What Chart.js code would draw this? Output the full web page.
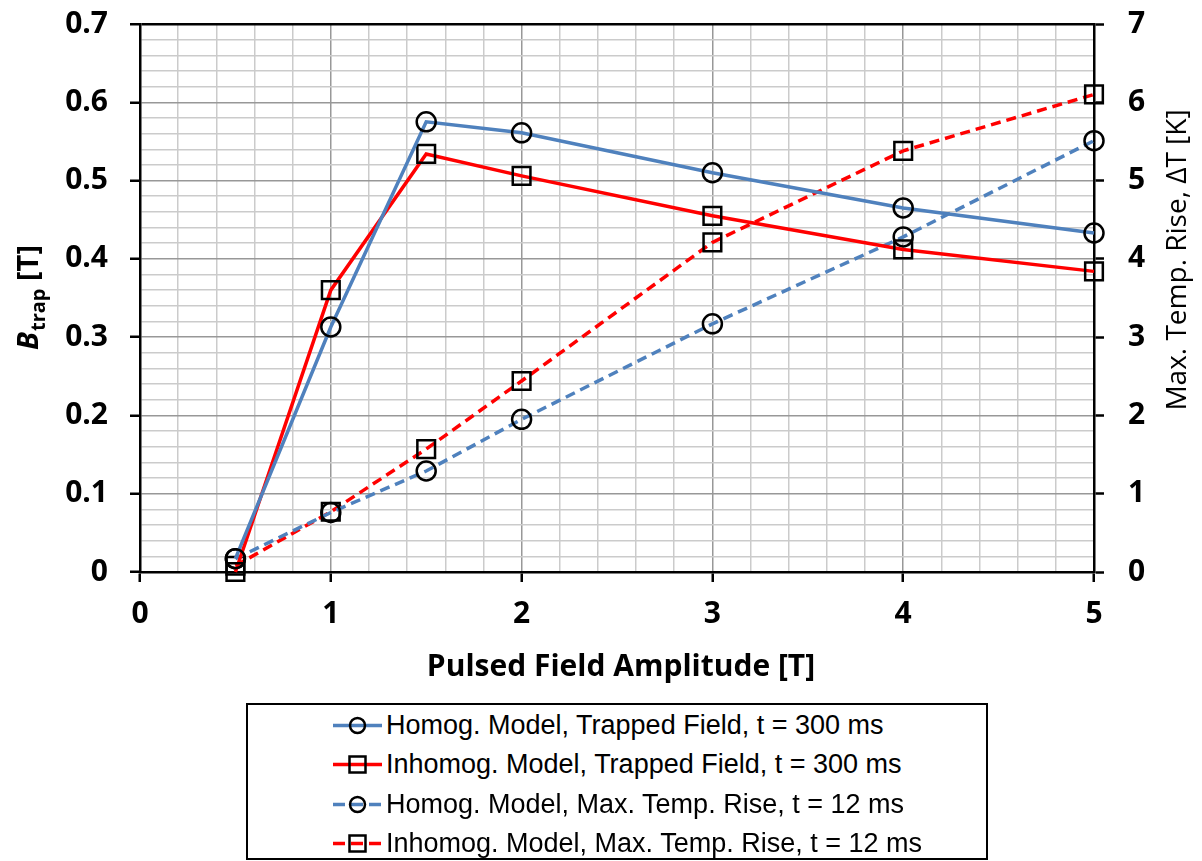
<!DOCTYPE html>
<html>
<head>
<meta charset="utf-8">
<script src="https://cdn.jsdelivr.net/npm/chart.js@4.4.1/dist/chart.umd.min.js"></script>
<style>
  html, body { margin: 0; padding: 0; background: #fff; }
  #wrap { position: relative; width: 1202px; height: 861px; }
  #legend {
    position: absolute; left: 246px; top: 703px; width: 742px; height: 157px;
    border: 2px solid #000; box-sizing: border-box; background: #fff;
    font-family: "Liberation Sans", Arial, sans-serif; font-size: 27px; color: #000;
  }
  #legend .row { position: absolute; left: 85px; height: 40px; display: flex; align-items: center; white-space: nowrap; }
  #legend svg { margin-right: 4px; }
</style>
</head>
<body>
<div id="wrap">
  <canvas id="chart" width="1202" height="861"></canvas>
  <div id="legend"></div>
</div>
<script>
// data
const amplitude = [0.5, 1, 1.5, 2, 3, 4, 5];
const homogField = [0.017, 0.313, 0.575, 0.561, 0.510, 0.465, 0.433];
const inhomogField = [0.0, 0.360, 0.534, 0.506, 0.455, 0.412, 0.384];
const homogTemp = [0.17, 0.76, 1.29, 1.95, 3.17, 4.28, 5.51];
const inhomogTemp = [0.08, 0.77, 1.57, 2.44, 4.21, 5.38, 6.10];
const seriesLabels = [
    'Homog. Model, Trapped Field, t = 300 ms',
    'Inhomog. Model, Trapped Field, t = 300 ms',
    'Homog. Model, Max. Temp. Rise, t = 12 ms',
    'Inhomog. Model, Max. Temp. Rise, t = 12 ms'
];

const BLUE = 'rgb(79,129,189)';
const RED = 'rgb(255,0,0)';
const tickFont = { family: '"Open Sans", sans-serif', size: 30, weight: 'bold' };

function isMultiple(v, step) {
    return Math.abs(v / step - Math.round(v / step)) < 1e-6;
}

function series(label, xs, ys, color, dashed, style, axis) {
    return {
        label: label,
        data: xs.map((x, i) => ({ x: x, y: ys[i] })),
        yAxisID: axis,
        borderColor: color,
        borderWidth: 3.5,
        borderDash: dashed ? [10, 6] : [],
        pointStyle: style,
        pointRadius: style === 'rect' ? 12.5 : 9.5,
        pointBorderColor: '#000',
        pointBorderWidth: 2.5,
        pointBackgroundColor: 'rgba(0,0,0,0)',
        tension: 0,
        clip: false
    };
}

// axis titles drawn by hand (subscript and upward reading right title)
const axisTitles = {
    id: 'axisTitles',
    afterDraw(chart) {
        const ctx = chart.ctx;
        const area = chart.chartArea;
        ctx.save();
        ctx.fillStyle = '#000';

        // x title
        ctx.font = 'bold 30px "Open Sans", sans-serif';
        ctx.textAlign = 'center';
        ctx.textBaseline = 'alphabetic';
        ctx.fillText('Pulsed Field Amplitude [T]', 621, 676);

        // left title: B_trap [T]
        const big = 'bold 29px "Open Sans", sans-serif';
        const bigIt = 'italic bold 29px "Open Sans", sans-serif';
        const small = 'bold 20px "Open Sans", sans-serif';
        ctx.font = bigIt; const wB = ctx.measureText('B').width;
        ctx.font = small; const wS = ctx.measureText('trap').width;
        ctx.font = big; const wT = ctx.measureText(' [T]').width;
        const total = wB + wS + wT;
        ctx.translate(38, (area.top + area.bottom) / 2 + total / 2);
        ctx.rotate(-Math.PI / 2);
        ctx.textAlign = 'left';
        ctx.font = bigIt; ctx.fillText('B', 0, 0);
        ctx.font = small; ctx.fillText('trap', wB + 1, 7);
        ctx.font = big; ctx.fillText(' [T]', wB + wS + 1, 0);
        ctx.restore();

        // right title
        ctx.save();
        ctx.fillStyle = '#000';
        ctx.font = '500 28px "Open Sans", sans-serif';
        ctx.textAlign = 'center';
        ctx.textBaseline = 'middle';
        ctx.translate(1178, 260);
        ctx.rotate(-Math.PI / 2);
        ctx.fillText('Max. Temp. Rise, \u0394T [K]', 0, 0);
        ctx.restore();
    }
};

const chart = new Chart(document.getElementById('chart'), {
    type: 'line',
    data: {
        datasets: [
            series(seriesLabels[0], amplitude, homogField, BLUE, false, 'circle', 'y'),
            series(seriesLabels[1], amplitude, inhomogField, RED, false, 'rect', 'y'),
            series(seriesLabels[2], amplitude, homogTemp, BLUE, true, 'circle', 'y2'),
            series(seriesLabels[3], amplitude, inhomogTemp, RED, true, 'rect', 'y2')
        ]
    },
    options: {
        responsive: false,
        animation: false,
        layout: { padding: { top: 24, left: 0, right: 0, bottom: 0 } },
        plugins: { legend: { display: false }, tooltip: { enabled: false } },
        scales: {
            x: {
                type: 'linear', min: 0, max: 5,
                afterFit: s => { s.height = 289; s.paddingLeft = 0; s.paddingRight = 0; },
                ticks: {
                    stepSize: 0.2, autoSkip: false, maxRotation: 0, padding: 14,
                    color: '#000', font: tickFont,
                    callback: v => isMultiple(v, 1) ? String(Math.round(v)) : ''
                },
                grid: {
                    color: c => isMultiple(c.tick.value, 1) ? '#989898' : '#cbcbcb',
                    lineWidth: 1.5,
                    tickLength: 10,
                    tickWidth: 2.5,
                    tickColor: c => isMultiple(c.tick.value, 1) ? '#000' : 'rgba(0,0,0,0)'
                },
                border: { color: '#000', width: 2.5 }
            },
            y: {
                type: 'linear', position: 'left', min: 0, max: 0.7,
                afterFit: s => { s.width = 140; s.paddingTop = 0; s.paddingBottom = 0; },
                ticks: {
                    stepSize: 0.02, autoSkip: false, padding: 22,
                    color: '#000', font: tickFont,
                    callback: v => isMultiple(v, 0.1) ? String(Math.round(v * 10) / 10) : ''
                },
                grid: {
                    color: c => Math.abs(c.tick.value - 0.7) < 1e-6 ? '#000' :
                        (isMultiple(c.tick.value, 0.1) ? '#989898' : '#cbcbcb'),
                    lineWidth: c => Math.abs(c.tick.value - 0.7) < 1e-6 ? 2.5 : 1.5,
                    tickLength: 10,
                    tickWidth: 2.5,
                    tickColor: c => isMultiple(c.tick.value, 0.1) ? '#000' : 'rgba(0,0,0,0)'
                },
                border: { color: '#000', width: 2.5 }
            },
            y2: {
                type: 'linear', position: 'right', min: 0, max: 7,
                afterFit: s => { s.width = 108; s.paddingTop = 0; s.paddingBottom = 0; },
                ticks: { stepSize: 1, padding: 24, color: '#000', font: tickFont },
                grid: { drawOnChartArea: false, tickLength: 10, tickWidth: 2.5, tickColor: '#000' },
                border: { color: '#000', width: 2.5 }
            }
        }
    },
    plugins: [axisTitles]
});

// legend box built from the datasets
const legendBox = document.getElementById('legend');
chart.data.datasets.forEach((ds, i) => {
    const row = document.createElement('div');
    row.className = 'row';
    row.style.top = (i * 39.5) + 'px';
    const dash = ds.borderDash.length ? 'stroke-dasharray="12 6"' : '';
    const marker = ds.pointStyle === 'rect'
        ? '<rect x="16.5" y="11.5" width="16" height="16" fill="none" stroke="#000" stroke-width="2.5"/>'
        : '<circle cx="24.5" cy="19.5" r="7.5" fill="none" stroke="#000" stroke-width="2.5"/>';
    row.innerHTML = '<svg width="49" height="39"><line x1="0" y1="19.5" x2="49" y2="19.5" stroke="' +
        ds.borderColor + '" stroke-width="3.5" ' + dash + '/>' + marker + '</svg>';
    const span = document.createElement('span');
    span.textContent = ds.label;
    row.appendChild(span);
    legendBox.appendChild(row);
});
</script>
</body>
</html>
